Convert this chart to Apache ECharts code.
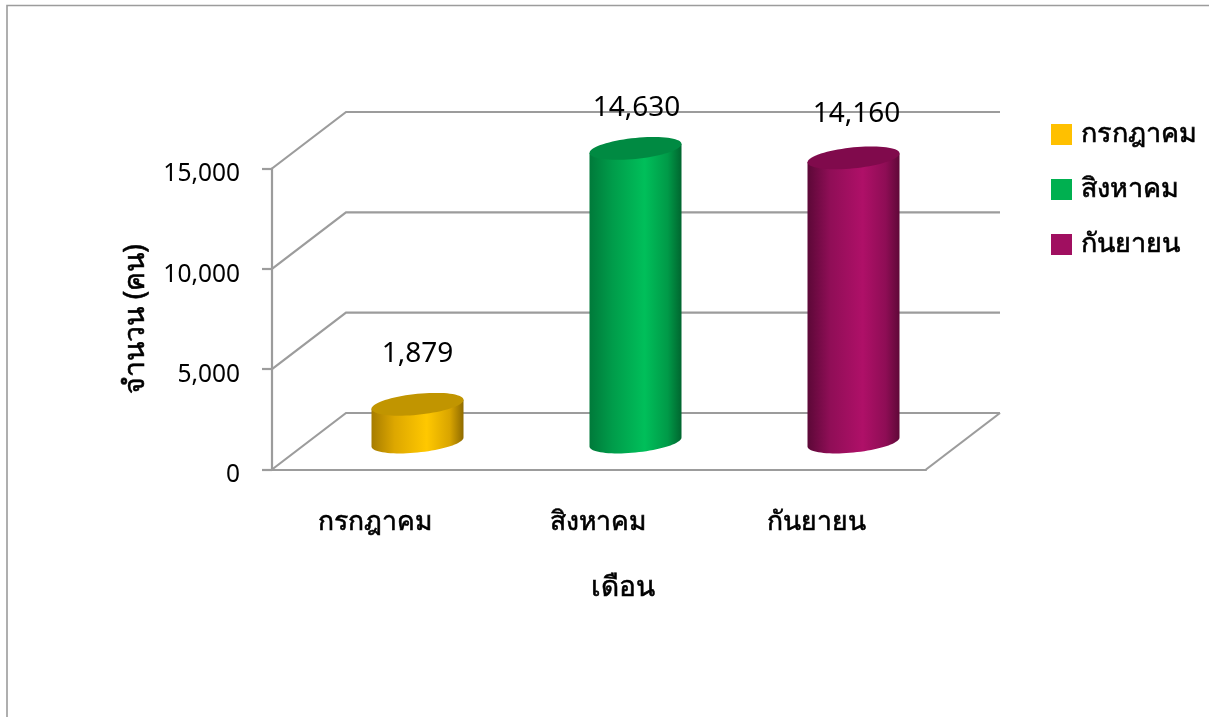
<!DOCTYPE html>
<html><head><meta charset="utf-8">
<style>html,body{margin:0;padding:0;background:#fff}#c{width:1209px;height:717px}</style>
<script src="https://cdn.jsdelivr.net/npm/echarts@6/dist/echarts.min.js"></script>
</head><body><div id="c"></div>
<script>
const months = ['กรกฎาคม', 'สิงหาคม', 'กันยายน'];
const people = [1879, 14630, 14160];
const yTicks = [0, 5000, 10000, 15000];
const yAxisTitle = 'จำนวน (คน)';
const xAxisTitle = 'เดือน';

const FONT = '"Noto Sans", sans-serif';
const TXT = '#000';
const GRID = '#9c9c9c';
const palette = [
  {key:'#FFC000', top:'#C19500', l:'#A67C00', a:'#DDA700', m:'#FFC800', b:'#D9A500', r:'#8F6B00'},
  {key:'#00B050', top:'#008A42', l:'#007A3A', a:'#009C4A', m:'#00BF5A', b:'#009A48', r:'#00662F'},
  {key:'#A00F60', top:'#800A4C', l:'#5C0837', a:'#900E57', m:'#AF1068', b:'#8E0D55', r:'#5F0838'}
];
const labelLift = [50, 40, 44];
const labelShift = [0, 1, 3];
const catPad = [12, 2, 2];
const DX = 74, DY = 56.5;          // depth of the 3D box
const BX = 36.5, BY = 27.5;        // where the cylinders stand on the floor
const RX = 46, RY = 10.5, SHEAR = 4.5;
const SEMI = {textBorderColor:'#000', textBorderWidth:0.6};

function ellipsePts(cx, cy, from, to, n) {
  const out = [];
  for (let i = 0; i <= n; i++) {
    const t = from + (to - from) * i / n;
    out.push([cx + RX * Math.cos(t), cy + RY * Math.sin(t) - SHEAR * Math.cos(t)]);
  }
  return out;
}

function renderWall(params, api) {
  const g = params.coordSys;
  const y = api.coord([0, api.value(1)])[1];
  const x0 = g.x, x1 = g.x + g.width;
  const style = {stroke: GRID, lineWidth: 2.2, fill: null};
  const kids = [{type:'polyline', shape:{points:[[x0,y],[x0+DX,y-DY],[x1+DX,y-DY]]}, style}];
  if (api.value(1) === 0) {
    kids.push({type:'polyline', shape:{points:[[x1,y],[x1+DX,y-DY]]}, style});
  }
  return {type:'group', children:kids};
}

function renderCyl(i) {
  return function (params, api) {
    const v = api.value(1);
    const base = api.coord([api.value(0), 0]);
    const top = api.coord([api.value(0), v]);
    const cx = base[0] + BX, by = base[1] - BY, ty = top[1] - BY;
    const c = palette[i];
    const pts = [[cx - RX, ty + SHEAR]]
      .concat(ellipsePts(cx, by, Math.PI, 0, 40), [[cx + RX, ty - SHEAR]]);
    return {type:'group', children:[
      {type:'polygon', shape:{points:pts}, style:{
        fill:{type:'linear', x:0, y:0, x2:1, y2:0, colorStops:[
          {offset:0, color:c.l},{offset:0.25, color:c.a},{offset:0.6, color:c.m},
          {offset:0.85, color:c.b},{offset:1, color:c.r}]}}},
      {type:'polygon', shape:{points:ellipsePts(cx, ty, 0, Math.PI*2, 72)}, style:{fill:c.top}},
      {type:'text', style:{x:cx + labelShift[i], y:ty - labelLift[i], text:v.toLocaleString('en-US'),
        font:'28px '+FONT, fill:TXT, align:'center', verticalAlign:'middle'}}
    ]};
  };
}

const series = [{
  type:'custom', name:'wall', silent:true, clip:false, z:1,
  encode:{x:0, y:1}, renderItem:renderWall,
  data: yTicks.map(t => [months[0], t])
}].concat(months.map((m, i) => ({
  type:'custom', name:m, clip:false, z:2,
  encode:{x:0, y:1}, itemStyle:{color:palette[i].key},
  renderItem:renderCyl(i),
  data:[[m, people[i]]]
})));

const chart = echarts.init(document.getElementById('c'), null, {renderer:'canvas'});
chart.setOption({
  animation:false,
  backgroundColor:'#fff',
  textStyle:{fontFamily:FONT},
  graphic:[{type:'polyline', silent:true, shape:{points:[[7,717],[7,5.5],[1209,5.5]]},
    style:{stroke:'#9c9c9c', lineWidth:1.6, fill:null}}],
  grid:{left:272, top:168.5, width:654, height:301},
  legend:{
    left:1051, top:114, padding:0, orient:'vertical', icon:'rect',
    itemWidth:21, itemHeight:21, itemGap:14, selectedMode:false,
    data:months,
    textStyle:Object.assign({fontSize:27, color:TXT, fontFamily:FONT, padding:[20,0,0,4], height:21, lineHeight:21}, SEMI)
  },
  xAxis:{
    type:'category',
    data:months.map((m, i) => ({value:m, textStyle:{padding:[0,catPad[i],0,0]}})),
    name:xAxisTitle, nameLocation:'middle', nameGap:105,
    nameTextStyle:Object.assign({fontSize:28, color:TXT, padding:[0,0,0,48]}, SEMI),
    axisTick:{show:false},
    axisLine:{lineStyle:{color:GRID, width:2.2}},
    axisLabel:Object.assign({fontSize:26.5, color:TXT, margin:39, interval:0}, SEMI)
  },
  yAxis:{
    type:'value', min:0, max:15000, interval:5000,
    name:yAxisTitle, nameLocation:'middle', nameGap:122,
    nameTextStyle:Object.assign({fontSize:28.3, color:TXT}, SEMI),
    splitLine:{show:false},
    axisTick:{show:true, length:10, lineStyle:{color:GRID, width:2.2}},
    axisLine:{show:true, lineStyle:{color:GRID, width:2.2}},
    axisLabel:{fontSize:24.5, color:TXT, margin:32, verticalAlign:'top', lineHeight:12,
      formatter:v => v.toLocaleString('en-US')}
  },
  series
});
</script></body></html>
